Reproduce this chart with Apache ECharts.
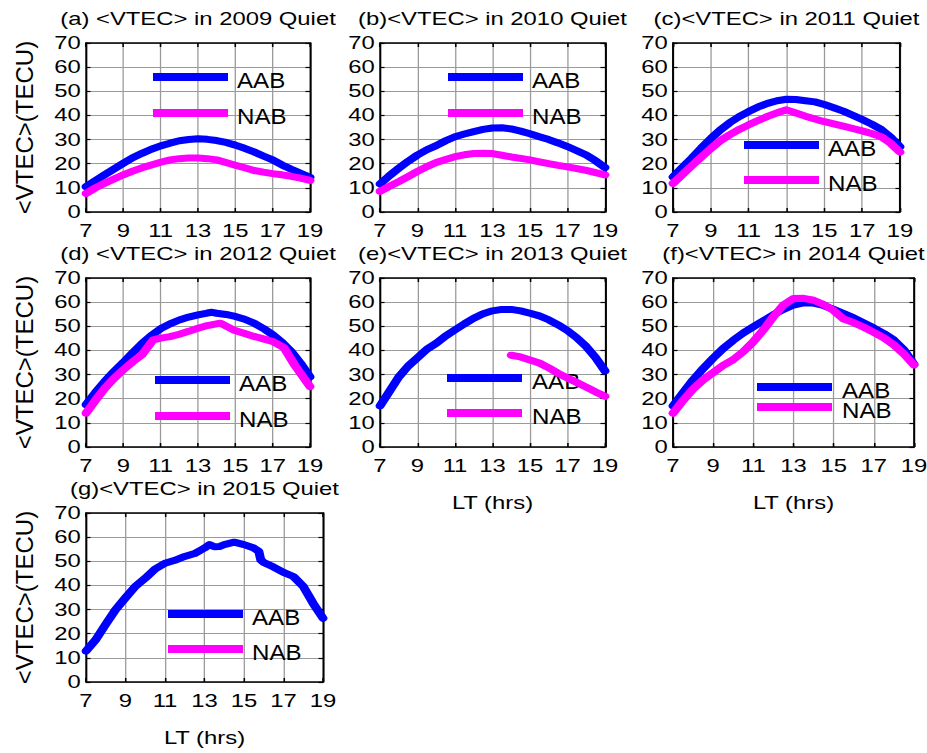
<!DOCTYPE html>
<html>
<head>
<meta charset="utf-8">
<title>VTEC quiet-day variation 2009-2015</title>
<script src="https://cdn.jsdelivr.net/npm/echarts@6/dist/echarts.min.js"></script>
<style>
  html, body { margin: 0; padding: 0; background: #fff; overflow: hidden; }
  #wrap { width: 927px; height: 753px; overflow: hidden; }
  /* the figure is laid out narrow and widened horizontally, as the printed figure is */
  #chart { width: 719px; height: 753px; transform: scaleX(1.289291); transform-origin: 0 0; }
</style>
</head>
<body>
<div id="wrap"><div id="chart"></div></div>
<script>
// ---- data: local time (hrs) and mean VTEC (TECU) ----
const ltHalf = [7, 7.5, 8, 8.5, 9, 9.5, 10, 10.5, 11, 11.5, 12, 12.5, 13, 13.5, 14, 14.5, 15, 15.5, 16, 16.5, 17, 17.5, 18, 18.5, 19];

const aab2009 = [10.5, 13, 15.4, 17.8, 20.2, 22.5, 24.3, 26, 27.4, 28.5, 29.5, 30, 30.3, 30.1, 29.6, 28.8, 27.7, 26.4, 24.9, 23.2, 21.6, 19.5, 17.7, 16, 14.4];
const nab2009 = [7.7, 10, 11.9, 13.7, 15.4, 16.9, 18.3, 19.5, 20.6, 21.6, 22.1, 22.4, 22.4, 22.1, 21.6, 20.5, 19.4, 18.3, 17.2, 16.5, 15.9, 15.4, 14.8, 14, 13.1];

const aab2010 = [11.6, 15, 18.1, 21, 23.6, 25.8, 27.5, 29.5, 31.2, 32.3, 33.3, 34.2, 34.8, 34.9, 34.4, 33.5, 32.4, 31.2, 30, 28.6, 27.1, 25.4, 23.6, 21.2, 18.4];
const nab2010 = [8.6, 10.6, 12.6, 14.7, 16.8, 18.8, 20.5, 21.7, 22.9, 23.7, 24.2, 24.3, 24.2, 23.5, 22.8, 22.2, 21.6, 20.8, 20, 19.3, 18.7, 18, 17.2, 16.3, 15.4];

const aab2011 = [14.5, 18.5, 22.3, 26.5, 30.4, 34, 37, 39.5, 41.6, 43.5, 45, 46.1, 46.7, 46.6, 46.1, 45.6, 44.5, 43.2, 41.8, 40.1, 38.3, 36.4, 34.2, 31, 27];
const nab2011 = [11.8, 15.5, 19.2, 22.8, 26.3, 29.5, 32, 34.2, 36.1, 37.9, 39.6, 41.1, 42.3, 41, 39.7, 38.5, 37.4, 36.5, 35.6, 34.6, 33.6, 32.5, 31.2, 28.5, 24.8];

const ltAab2012 = [7, 7.5, 8, 8.5, 9, 9.5, 10, 10.5, 11, 11.5, 12, 12.5, 13, 13.5, 13.75, 14, 14.5, 15, 15.5, 16, 16.5, 17, 17.5, 18, 18.5, 19];
const aab2012 = [17.5, 22.5, 27.1, 31.2, 35, 39, 42.8, 46.2, 49, 51, 52.6, 53.8, 54.7, 55.5, 55.8, 55.4, 54.9, 54.1, 52.9, 51.3, 49.1, 46.5, 43.3, 39.5, 34.6, 29];
const ltNab2012 = [7, 7.5, 8, 8.5, 9, 9.5, 10, 10.6, 11, 11.5, 12, 12.5, 13, 13.5, 14.2, 14.9, 15.5, 16, 16.5, 17, 17.6, 18.2, 19];
const nab2012 = [14, 19.3, 24.3, 28.4, 32, 35.3, 38.2, 44.4, 45.1, 45.7, 46.7, 47.9, 49.2, 50.3, 51.3, 48.5, 47, 45.8, 44.8, 43.7, 41.2, 33.7, 25];

const aab2013 = [17, 23, 29, 33.5, 37, 40.5, 43, 46, 48.5, 51, 53.3, 55.2, 56.4, 57, 57, 56.4, 55.4, 54.3, 52.7, 50.6, 48.2, 45.2, 41.6, 37, 31.5];
const ltNab2013 = [14, 14.5, 15, 15.5, 16, 16.5, 17, 17.5, 18, 18.5, 19];
const nab2013 = [38, 37.3, 36, 34.8, 32.8, 30.5, 28.6, 26.7, 24.8, 22.8, 21];

const aab2014 = [17, 22.5, 27.8, 32.5, 36.8, 40.8, 44.2, 47.2, 49.8, 52.3, 54.8, 57, 58.8, 59.7, 59.6, 58.6, 57, 55.3, 53.5, 51.4, 49.3, 47, 44.3, 40.2, 34.2];
const nab2014 = [14, 19.3, 24, 27.8, 30.8, 33.8, 36.2, 39.5, 43.6, 48.5, 54, 58.8, 61.5, 61.6, 60.8, 59, 56.5, 53, 51.5, 49.6, 47.5, 45.2, 42.3, 38.5, 34];

const ltAab2015 = [7, 7.5, 8, 8.5, 9, 9.5, 10, 10.5, 11, 11.5, 12, 12.5, 13, 13.25, 13.5, 13.75, 14, 14.5, 15, 15.5, 15.75, 15.85, 16, 16.5, 17, 17.5, 18, 18.5, 19];
const aab2015 = [12.8, 17.6, 23.9, 30, 34.9, 39.6, 43, 46.8, 49.2, 50.4, 52, 53.2, 55.5, 56.9, 56, 56.1, 56.9, 57.9, 56.9, 55.5, 54.1, 50.6, 49.5, 47.6, 45.4, 43.7, 39.6, 32.6, 26.4];

const xTicks = { min: 7, max: 19, step: 2 };
const yTicks = { min: 0, max: 70, step: 10 };
const seriesNames = ['AAB', 'NAB'];
const seriesColors = ['#0000ff', '#ff00ff'];

// ---- layout (screen pixels; divided by SX to get chart units) ----
const SX = 927 / 719;
const FONT = '"Liberation Sans", Arial, Helvetica, sans-serif';
const PLOT_H = 169;

const panels = [
  { title: '(a) <VTEC> in 2009 Quiet', left: 86,  top: 43,  width: 224, yName: true,  xName: false,
    aab: [ltHalf, aab2009], nab: [ltHalf, nab2009], leg: { x1: 153, x2: 228, yA: 77,  yN: 113, tx: 237 } },
  { title: '(b)<VTEC> in 2010 Quiet',  left: 380, top: 43,  width: 225, yName: false, xName: false,
    aab: [ltHalf, aab2010], nab: [ltHalf, nab2010], leg: { x1: 448, x2: 523, yA: 77,  yN: 113, tx: 532 } },
  { title: '(c)<VTEC> in 2011 Quiet',  left: 673, top: 43,  width: 227, yName: false, xName: false,
    aab: [ltHalf, aab2011], nab: [ltHalf, nab2011], leg: { x1: 744, x2: 819, yA: 145, yN: 180, tx: 828 } },
  { title: '(d) <VTEC> in 2012 Quiet', left: 86,  top: 278, width: 224, yName: true,  xName: false,
    aab: [ltAab2012, aab2012], nab: [ltNab2012, nab2012], leg: { x1: 155, x2: 230, yA: 380, yN: 416, tx: 239 } },
  { title: '(e)<VTEC> in 2013 Quiet',  left: 380, top: 278, width: 225, yName: false, xName: true,
    aab: [ltHalf, aab2013], nab: [ltNab2013, nab2013], leg: { x1: 447, x2: 522, yA: 378, yN: 413, tx: 532 } },
  { title: '(f)<VTEC> in 2014 Quiet',  left: 673, top: 278, width: 241, yName: false, xName: true,
    aab: [ltHalf, aab2014], nab: [ltHalf, nab2014], leg: { x1: 757, x2: 832, yA: 387, yN: 407, tx: 842 } },
  { title: '(g)<VTEC> in 2015 Quiet',  left: 86,  top: 513, width: 237, yName: true,  xName: true,
    aab: [ltAab2015, aab2015], nab: null, leg: { x1: 168, x2: 243, yA: 614, yN: 649, tx: 252 } }
];

const zip = (xs, ys) => xs.map((x, i) => [x, ys[i]]);
const u = v => v / SX;

const grids = [], xAxes = [], yAxes = [], series = [], graphics = [];

const lineBlack = { color: '#000', width: 1.5 };
const tickStyle = { color: '#000', width: 1.2 };
const gridLine = { color: '#9a9a9a', width: 1 };
const tickLabel = { color: '#000', fontSize: 18.5, fontFamily: FONT };

panels.forEach((p, i) => {
  grids.push({ left: u(p.left), top: p.top, width: u(p.width), height: PLOT_H, outerBoundsMode: 'none' });

  const xCommon = { gridIndex: i, type: 'value', min: xTicks.min, max: xTicks.max, interval: xTicks.step };
  xAxes.push(Object.assign({}, xCommon, {
    position: 'bottom',
    axisLine: { show: true, onZero: false, lineStyle: lineBlack },
    axisTick: { show: true, inside: true, length: 4, lineStyle: tickStyle },
    axisLabel: Object.assign({ margin: 9, showMinLabel: true, showMaxLabel: true }, tickLabel),
    splitLine: { show: true, lineStyle: gridLine }
  }));
  xAxes.push(Object.assign({}, xCommon, {
    position: 'top',
    axisLine: { show: true, onZero: false, lineStyle: lineBlack },
    axisTick: { show: true, inside: true, length: 4, lineStyle: tickStyle },
    axisLabel: { show: false },
    splitLine: { show: false }
  }));

  const yCommon = { gridIndex: i, type: 'value', min: yTicks.min, max: yTicks.max, interval: yTicks.step };
  yAxes.push(Object.assign({}, yCommon, {
    position: 'left',
    axisLine: { show: true, onZero: false, lineStyle: lineBlack },
    axisTick: { show: true, inside: true, length: 3.5, lineStyle: tickStyle },
    axisLabel: Object.assign({ margin: 4, showMinLabel: true, showMaxLabel: true }, tickLabel),
    splitLine: { show: true, lineStyle: gridLine }
  }));
  yAxes.push(Object.assign({}, yCommon, {
    position: 'right',
    axisLine: { show: true, onZero: false, lineStyle: lineBlack },
    axisTick: { show: true, inside: true, length: 3.5, lineStyle: tickStyle },
    axisLabel: { show: false },
    splitLine: { show: false }
  }));

  [p.aab, p.nab].forEach((d, k) => {
    if (!d) return;
    series.push({
      name: seriesNames[k], type: 'line', xAxisIndex: 2 * i, yAxisIndex: 2 * i,
      data: zip(d[0], d[1]), showSymbol: false, symbol: 'none', z: 3 + k,
      lineStyle: { color: seriesColors[k], width: 7, cap: 'round', join: 'round' },
      itemStyle: { color: seriesColors[k] }, animation: false
    });
  });

  const cx = u(p.left + p.width / 2);
  const titleY = p.top - 24.5;
  graphics.push({ type: 'text', x: cx, y: titleY, z: 10,
    style: { text: p.title, font: '18.5px ' + FONT, fill: '#000', textAlign: 'center', textVerticalAlign: 'middle' } });

  if (p.yName) {
    graphics.push({ type: 'text', x: u(24), y: p.top + PLOT_H / 2, rotation: Math.PI / 2, scaleY: 1 / SX, z: 10,
      style: { text: '<VTEC>(TECU)', font: '24px ' + FONT, fill: '#000', textAlign: 'center', textVerticalAlign: 'middle' } });
  }
  if (p.xName) {
    graphics.push({ type: 'text', x: cx, y: p.top + PLOT_H + 55.5, z: 10,
      style: { text: 'LT (hrs)', font: '18.5px ' + FONT, fill: '#000', textAlign: 'center', textVerticalAlign: 'middle' } });
  }

  // key: a thick stroke per site followed by its label
  [p.leg.yA, p.leg.yN].forEach((yy, k) => {
    graphics.push({ type: 'line', z: 1,
      shape: { x1: u(p.leg.x1), y1: yy, x2: u(p.leg.x2), y2: yy },
      style: { stroke: seriesColors[k], lineWidth: 8, lineCap: 'butt' } });
    graphics.push({ type: 'text', x: u(p.leg.tx), y: yy + 3, scaleX: 0.85, z: 1,
      style: { text: seriesNames[k], font: '22px ' + FONT, fill: '#000', textAlign: 'left', textVerticalAlign: 'middle' } });
  });
});

const chart = echarts.init(document.getElementById('chart'), null, { renderer: 'svg' });
chart.setOption({
  backgroundColor: '#fff',
  animation: false,
  grid: grids,
  xAxis: xAxes,
  yAxis: yAxes,
  series: series,
  graphic: { elements: graphics }
});
</script>
</body>
</html>
